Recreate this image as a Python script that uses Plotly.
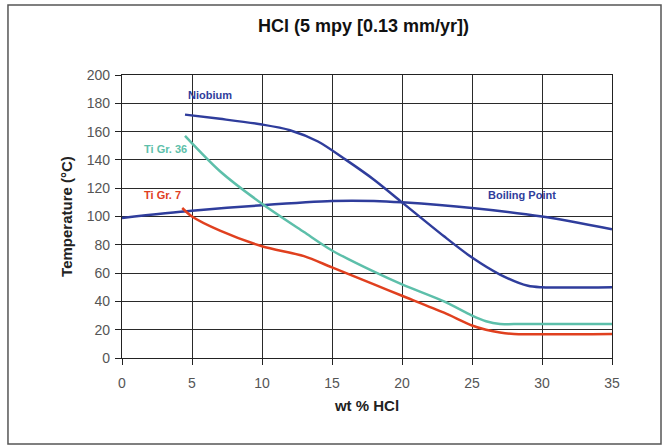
import plotly.graph_objects as go

# Data
nb_x = [4.5, 7, 10, 12, 14, 16, 18, 20, 23, 25, 27, 29, 30, 35]
nb_y = [172, 169, 165, 161, 153, 140, 126, 110, 86, 71, 59, 51, 50, 50]

bp_x = [0, 5, 10, 15, 18, 20, 25, 30, 35]
bp_y = [99, 104, 108, 111, 111, 110, 106, 100, 91]

ti36_x = [4.5, 7, 10, 13, 15, 18, 20, 23, 25, 26, 27, 28, 35]
ti36_y = [157, 132, 109, 89, 76, 61, 52, 40, 30, 26, 24, 24, 24]

ti7_x = [4.3, 5, 7, 10, 13, 15, 18, 20, 23, 25, 26, 27, 28, 35]
ti7_y = [106, 100, 90, 79, 72, 64, 52, 44, 32, 23, 20, 18, 17, 17]

x_ticks = [0, 5, 10, 15, 20, 25, 30, 35]
y_ticks = [0, 20, 40, 60, 80, 100, 120, 140, 160, 180, 200]

labels = [
    ("Niobium", 6.3, 186, "#2f3d9c"),
    ("Ti Gr. 36", 3.1, 148, "#5dbfaa"),
    ("Ti Gr. 7", 2.9, 115, "#e0401f"),
    ("Boiling Point", 28.6, 115, "#2f3d9c"),
]

BLUE = "#2f3d9c"
TEAL = "#5dbfaa"
RED = "#e0401f"
FONT = "Arial, Liberation Sans, sans-serif"

fig = go.Figure()
for xs, ys, col, name in [
    (bp_x, bp_y, BLUE, "Boiling Point"),
    (nb_x, nb_y, BLUE, "Niobium"),
    (ti36_x, ti36_y, TEAL, "Ti Gr. 36"),
    (ti7_x, ti7_y, RED, "Ti Gr. 7"),
]:
    fig.add_trace(go.Scatter(x=xs, y=ys, mode="lines", name=name,
                             line=dict(color=col, width=2.5, shape="spline", smoothing=0.8),
                             hoverinfo="x+y+name"))

for txt, x, y, col in labels:
    fig.add_annotation(x=x, y=y, text="<b>" + txt + "</b>", showarrow=False,
                       font=dict(family="Liberation Sans Narrow, Arial Narrow, sans-serif",
                                 size=11, color=col))

fig.add_shape(type="rect", xref="paper", yref="paper",
              x0=-0.2327, x1=1.1, y0=-0.304, y1=1.247,
              line=dict(color="#555555", width=1.5), layer="below")

axis_common = dict(showline=True, linecolor="#222222", linewidth=1.2, mirror=True,
                   showgrid=True, gridcolor="#2a2a2a", gridwidth=1.2,
                   ticks="outside", ticklen=6, tickcolor="#222222",
                   tickfont=dict(family=FONT, size=14, color="#555555"),
                   zeroline=False)

fig.update_layout(
    width=668, height=445,
    margin=dict(l=122, r=56, t=75, b=87),
    paper_bgcolor="white", plot_bgcolor="white",
    showlegend=False,
    title=dict(text="<b>HCl (5 mpy [0.13 mm/yr])</b>", x=0.493, xref="paper", xanchor="center",
               y=0.942, yanchor="middle",
               font=dict(family=FONT, size=18, color="#111111")),
    xaxis=dict(range=[0, 35], tickvals=x_ticks, ticklabelstandoff=6,
               title=dict(text="<b>wt % HCl</b>", standoff=10,
                          font=dict(family=FONT, size=15, color="#222222")),
               **axis_common),
    yaxis=dict(range=[0, 200], tickvals=y_ticks, ticklabelstandoff=2,
               title=dict(text="<b>Temperature (°C)</b>", standoff=10,
                          font=dict(family=FONT, size=15, color="#222222")),
               **axis_common),
)

fig.write_html("out.html")
